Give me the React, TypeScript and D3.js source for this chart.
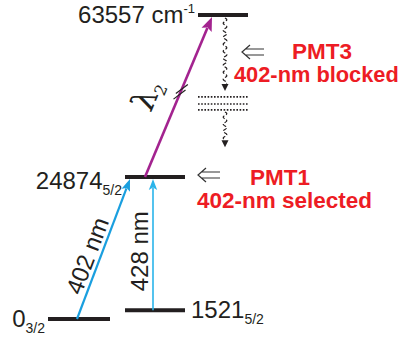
import { useEffect, useRef } from 'react';
import * as d3 from 'd3';

// energy levels, cm^-1
const levelValues = [0, 1521, 24874, 63557];
const levelColumn = [0, 1, 1, 2];
const levelText = ['0', '1521', '24874', '63557 cm'];
const levelSub = ['3/2', '5/2', '5/2', ''];
const levelSup = ['', '', '', '-1'];

// excitation steps (index into levels)
const transFrom = [0, 1, 2];
const transTo = [2, 2, 3];
const transLabel = ['402 nm', '428 nm', 'λ'];
const transLabelSub = ['', '', '2'];
const transColor = ['#1a9fdf', '#2ab4ea', '#a3238f'];

// cascade out of the top level through the dotted states
const cascadeLevels = [44000, 42300, 40900];
const cascadeEnd = 32000;

const pmtNames = ['PMT3', 'PMT1'];
const pmtNotes = ['402-nm blocked', '402-nm selected'];

const W = 402;
const H = 337;
const FONT = 'Liberation Sans, Arial, Helvetica, sans-serif';
const INK = '#231f20';
const RED = '#ed1c24';

const App = () => {
  const svgRef = useRef(null);

  useEffect(() => {
    document.body.style.margin = '0';
    const svg = d3.select(svgRef.current);
    svg.selectAll('*').remove();
    svg.attr('width', W).attr('height', H).style('display', 'block').style('background', '#fff');

    // broken energy axis: bottom part linear, upper part squeezed
    const y = d3
      .scaleLinear()
      .domain([levelValues[0], levelValues[2], levelValues[3]])
      .range([319, 177, 15]);
    const x = d3.scaleLinear().domain([0, 1, 2]).range([79, 155, 223]);
    const halfW = [31, 30, 25];

    // levels
    svg
      .append('g')
      .selectAll('line')
      .data(levelValues)
      .enter()
      .append('line')
      .attr('x1', (d, i) => x(levelColumn[i]) - halfW[levelColumn[i]])
      .attr('x2', (d, i) => x(levelColumn[i]) + halfW[levelColumn[i]])
      .attr('y1', (d) => y(d))
      .attr('y2', (d) => y(d))
      .attr('stroke', INK)
      .attr('stroke-width', 4);

    // level labels
    const side = ['left', 'right', 'left', 'left'];
    const labelDy = [8, 8, 12, 8];
    levelValues.forEach((v, i) => {
      const c = levelColumn[i];
      const left = side[i] === 'left';
      const t = svg
        .append('text')
        .attr('x', left ? x(c) - halfW[c] - 3 : x(c) + halfW[c] + 6)
        .attr('y', y(v) + labelDy[i])
        .attr('text-anchor', left ? 'end' : 'start')
        .style('font-family', FONT)
        .style('font-size', '24px')
        .attr('fill', INK);
      t.append('tspan').text(levelText[i]);
      if (levelSub[i]) t.append('tspan').attr('dy', 6).style('font-size', '14px').text(levelSub[i]);
      if (levelSup[i]) t.append('tspan').attr('dy', -10).style('font-size', '13px').text(levelSup[i]);
    });

    // excitation arrows
    const fromDx = [-2, -2, -10];
    const toDx = [-25, -2, -11];
    const width = [2.2, 1.6, 2.6];
    const headL = [12, 11, 14];
    const headW = [4.5, 4.2, 5.5];
    const labelT = [0.42, 0.45, 0.44];
    const labelPerp = [13, 14, 31];

    transFrom.forEach((f, i) => {
      const tIdx = transTo[i];
      const x1 = x(levelColumn[f]) + fromDx[i];
      const y1 = y(levelValues[f]);
      const x2 = x(levelColumn[tIdx]) + toDx[i];
      const y2 = y(levelValues[tIdx]) + 2;
      const len = Math.hypot(x2 - x1, y2 - y1);
      const ux = (x2 - x1) / len;
      const uy = (y2 - y1) / len;
      const bx = x2 - ux * headL[i];
      const by = y2 - uy * headL[i];

      svg
        .append('line')
        .attr('x1', x1)
        .attr('y1', y1)
        .attr('x2', bx + ux * 2)
        .attr('y2', by + uy * 2)
        .attr('stroke', transColor[i])
        .attr('stroke-width', width[i]);

      svg
        .append('path')
        .attr(
          'd',
          `M${x2},${y2}L${bx - uy * headW[i]},${by + ux * headW[i]}L${bx + ux * 2.5},${by + uy * 2.5}L${bx + uy * headW[i]},${by - ux * headW[i]}Z`
        )
        .attr('fill', transColor[i]);

      // label, rotated along the arrow, on its left side
      const px = x1 + (x2 - x1) * labelT[i] + uy * labelPerp[i];
      const py = y1 + (y2 - y1) * labelT[i] - ux * labelPerp[i];
      const ang = (Math.atan2(uy, ux) * 180) / Math.PI;
      const isLambda = transLabelSub[i] !== '';
      const t = svg
        .append('text')
        .attr('transform', `translate(${px},${py}) rotate(${ang})`)
        .attr('text-anchor', 'middle')
        .attr('dy', '0.36em')
        .style('font-family', isLambda ? 'DejaVu Serif, Liberation Serif, serif' : FONT)
        .style('font-size', isLambda ? '32px' : '24px')
        .attr('fill', INK);
      t.append('tspan').text(transLabel[i]);
      if (isLambda) t.append('tspan').attr('dy', 6).style('font-size', '16px').text(transLabelSub[i]);

      // break marks on the long step
      if (isLambda) {
        [0.515, 0.55].forEach((s) => {
          const cx = x1 + (x2 - x1) * s;
          const cy = y1 + (y2 - y1) * s;
          const a = (-37 * Math.PI) / 180;
          svg
            .append('line')
            .attr('x1', cx - Math.cos(a) * 7.5)
            .attr('y1', cy - Math.sin(a) * 7.5)
            .attr('x2', cx + Math.cos(a) * 7.5)
            .attr('y2', cy + Math.sin(a) * 7.5)
            .attr('stroke', INK)
            .attr('stroke-width', 1.2);
        });
      }
    });

    // cascade: wavy dashed arrows and dotted intermediate states
    const cx = x(levelColumn[3]) + 2;
    const wavy = (ya, yb) => {
      const pts = d3.range(ya, yb, 0.5).map((v) => [cx + 1.8 * Math.sin(((v - ya) / 7) * 2 * Math.PI), v]);
      svg
        .append('path')
        .attr('d', d3.line()(pts))
        .attr('fill', 'none')
        .attr('stroke', INK)
        .attr('stroke-width', 1.2)
        .attr('stroke-dasharray', '4,2');
      svg
        .append('path')
        .attr('d', `M${cx},${yb + 7}L${cx - 3.5},${yb}L${cx + 3.5},${yb}Z`)
        .attr('fill', INK);
    };
    wavy(y(levelValues[3]) + 3, y(cascadeLevels[0]) - 13);
    wavy(y(cascadeLevels[2]) + 2, y(cascadeEnd) - 7);

    svg
      .append('g')
      .selectAll('line')
      .data(cascadeLevels)
      .enter()
      .append('line')
      .attr('x1', x(levelColumn[3]) - halfW[2])
      .attr('x2', x(levelColumn[3]) + halfW[2])
      .attr('y1', (d) => y(d))
      .attr('y2', (d) => y(d))
      .attr('stroke', INK)
      .attr('stroke-width', 1.6)
      .attr('stroke-dasharray', '1.6,1.6');

    // detector notes
    const arrowX = [242, 198];
    const arrowY = [52, y(levelValues[2]) - 2];
    const nameX = [292, 250];
    const nameY = [59, 185];
    const noteX = [234, 197];
    const noteY = [82, 208];
    const noteSize = [21.8, 22.5];
    pmtNames.forEach((n, i) => {
      const ax = arrowX[i];
      const ay = arrowY[i];
      svg
        .append('path')
        .attr('d', `M${ax + 22},${ay - 3}H${ax + 4}M${ax + 22},${ay + 3}H${ax + 4}M${ax + 8},${ay - 7}L${ax},${ay}L${ax + 8},${ay + 7}`)
        .attr('fill', 'none')
        .attr('stroke', '#333')
        .attr('stroke-width', 1.2);
      svg
        .append('text')
        .attr('x', nameX[i])
        .attr('y', nameY[i])
        .style('font-family', FONT)
        .style('font-size', '22.5px')
        .style('font-weight', 'bold')
        .attr('fill', RED)
        .text(n);
      svg
        .append('text')
        .attr('x', noteX[i])
        .attr('y', noteY[i])
        .style('font-family', FONT)
        .style('font-size', `${noteSize[i]}px`)
        .style('font-weight', 'bold')
        .attr('fill', RED)
        .text(pmtNotes[i]);
    });
  }, []);

  return <svg ref={svgRef}></svg>;
};

export default App;
